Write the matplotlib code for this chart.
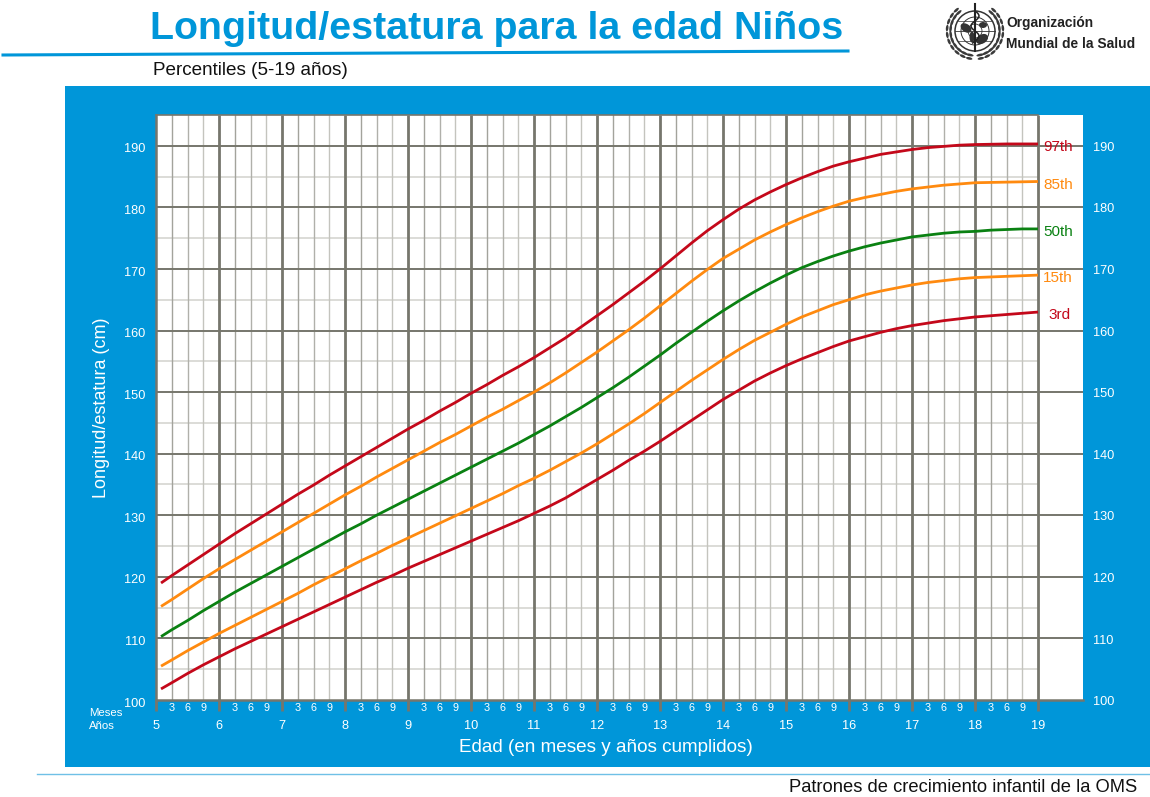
import numpy as np
import matplotlib
matplotlib.use("Agg")
import matplotlib.pyplot as plt
from matplotlib.patches import Circle, Ellipse, Rectangle
from matplotlib.transforms import ScaledTranslation

plt.rcParams["font.family"] = ["Liberation Sans", "DejaVu Sans"]

BLUE = "#0096d9"
GRID_DARK = "#76766c"
GRID_LIGHT = "#d2d2cd"
RED = "#c4081a"
ORANGE = "#ff8a0f"
GREEN = "#0a8112"

ages = [5.08, 5.25, 5.5, 5.75, 6, 6.25, 6.5, 6.75, 7, 7.25, 7.5, 7.75, 8, 8.25, 8.5, 8.75, 9,
        9.25, 9.5, 9.75, 10, 10.25, 10.5, 10.75, 11, 11.25, 11.5, 11.75, 12, 12.25, 12.5, 12.75, 13,
        13.25, 13.5, 13.75, 14, 14.25, 14.5, 14.75, 15, 15.25, 15.5, 15.75, 16, 16.25, 16.5, 16.75, 17,
        17.25, 17.5, 17.75, 18, 18.25, 18.5, 18.75, 19]
p97 = [119.0, 120.2, 121.9, 123.6, 125.3, 127.0, 128.6, 130.2, 131.8, 133.4, 134.9, 136.5, 138.0,
       139.5, 141.0, 142.5, 144.0, 145.4, 146.9, 148.3, 149.8, 151.2, 152.7, 154.1, 155.6, 157.2,
       158.8, 160.6, 162.4, 164.2, 166.1, 168.0, 170.0, 172.1, 174.2, 176.2, 178.0, 179.7, 181.2,
       182.5, 183.7, 184.8, 185.8, 186.7, 187.4, 188.0, 188.6, 189.0, 189.4, 189.7, 189.9, 190.1,
       190.2, 190.25, 190.3, 190.3, 190.3]
p85 = [115.2, 116.3, 118.0, 119.7, 121.3, 122.8, 124.3, 125.8, 127.3, 128.8, 130.3, 131.8, 133.3,
       134.7, 136.2, 137.6, 139.0, 140.4, 141.8, 143.1, 144.5, 145.9, 147.2, 148.6, 150.0, 151.5,
       153.1, 154.8, 156.5, 158.3, 160.1, 162.0, 164.0, 166.0, 168.0, 169.9, 171.7, 173.2, 174.7,
       176.0, 177.2, 178.3, 179.3, 180.2, 181.0, 181.6, 182.1, 182.6, 183.0, 183.3, 183.6, 183.8,
       184.0, 184.05, 184.1, 184.15, 184.2]
p50 = [110.3, 111.4, 112.9, 114.5, 116.0, 117.5, 118.9, 120.3, 121.7, 123.1, 124.5, 125.9, 127.3,
       128.6, 130.0, 131.3, 132.6, 133.9, 135.2, 136.5, 137.8, 139.1, 140.4, 141.7, 143.1, 144.5,
       146.0, 147.5, 149.1, 150.7, 152.4, 154.2, 156.0, 157.9, 159.7, 161.5, 163.2, 164.8, 166.3,
       167.7, 169.0, 170.2, 171.2, 172.1, 172.9, 173.6, 174.2, 174.7, 175.2, 175.5, 175.8, 176.0,
       176.1, 176.3, 176.4, 176.5, 176.5]
p15 = [105.5, 106.5, 108.0, 109.4, 110.8, 112.1, 113.4, 114.7, 116.0, 117.3, 118.7, 120.0, 121.3,
       122.6, 123.8, 125.1, 126.3, 127.5, 128.7, 129.9, 131.1, 132.3, 133.5, 134.8, 136.0, 137.3,
       138.7, 140.1, 141.6, 143.2, 144.8, 146.5, 148.3, 150.1, 151.9, 153.6, 155.3, 156.9, 158.4,
       159.7, 161.0, 162.2, 163.2, 164.2, 165.0, 165.8, 166.4, 166.9, 167.4, 167.8, 168.1, 168.4,
       168.6, 168.7, 168.8, 168.9, 169.0]
p3 = [101.8, 102.8, 104.3, 105.7, 107.0, 108.3, 109.5, 110.7, 111.9, 113.1, 114.3, 115.5, 116.7,
      117.9, 119.1, 120.2, 121.4, 122.5, 123.6, 124.7, 125.8, 126.9, 128.0, 129.1, 130.3, 131.5,
      132.8, 134.3, 135.8, 137.3, 138.9, 140.4, 142.0, 143.7, 145.4, 147.1, 148.8, 150.3, 151.8,
      153.1, 154.3, 155.4, 156.4, 157.4, 158.3, 159.0, 159.7, 160.3, 160.8, 161.2, 161.6, 161.9,
      162.2, 162.4, 162.6, 162.8, 163.0]
series = [(p97, RED, "97th"), (p85, ORANGE, "85th"), (p50, GREEN, "50th"),
          (p15, ORANGE, "15th"), (p3, RED, "3rd")]
year_ticks = list(range(5, 20))
height_ticks = list(range(100, 200, 10))
month_labels = ["3", "6", "9"]

W, H = 1150, 797
fig = plt.figure(figsize=(W / 100, H / 100), dpi=100, facecolor="white")

# page furniture, drawn in pixel coordinates
page = fig.add_axes([0, 0, 1, 1])
page.set_xlim(0, W)
page.set_ylim(H, 0)
page.axis("off")
page.add_patch(Rectangle((65, 86), 1085, 681, color=BLUE, lw=0))
page.plot([3, 400, 848], [55, 53, 51], color=BLUE, lw=2.2)
page.plot([37, 1150], [773.5, 773.5], color="#6fc0e6", lw=1)
page.text(150, 39, "Longitud/estatura para la edad Niños", color=BLUE, fontsize=28.4,
          fontweight="bold")
page.text(153, 75, "Percentiles (5-19 años)", color="#111111", fontsize=13.6)
page.text(1137, 792, "Patrones de crecimiento infantil de la OMS", color="#111111",
          fontsize=13.2, ha="right")
page.text(1006, 27, "Organización", color="#222222", fontsize=9.9, fontweight="bold")
page.text(1006, 48, "Mundial de la Salud", color="#222222", fontsize=9.9, fontweight="bold")
page.text(89, 716, "Meses", color="white", fontsize=8.2)
page.text(89, 729, "Años", color="white", fontsize=8.2)

# WHO emblem
cx, cy = 975, 31
logo = "#333333"
for r, lw in [(20, 1.1), (14, 0.7), (7, 0.6)]:
    page.add_patch(Circle((cx, cy), r, fill=False, ec=logo, lw=lw))
page.plot([cx - 20, cx + 20], [cy, cy], color=logo, lw=0.6)
page.plot([cx - 17, cx + 17], [cy - 10, cy - 10], color=logo, lw=0.5)
page.plot([cx - 17, cx + 17], [cy + 10, cy + 10], color=logo, lw=0.5)
page.add_patch(Ellipse((cx - 9, cy - 3), 12, 8, angle=35, color=logo, lw=0))
page.add_patch(Ellipse((cx - 3, cy + 6), 5, 11, color=logo, lw=0))
page.add_patch(Ellipse((cx + 7, cy + 8), 13, 9, angle=-30, color=logo, lw=0))
page.add_patch(Ellipse((cx + 8, cy - 6), 8, 6, color=logo, lw=0))
page.plot([cx, cx], [cy - 27, cy + 20], color="#222222", lw=1.5)
snake_y = np.linspace(cy - 19, cy + 12, 40)
page.plot(cx + 4 * np.sin((snake_y - cy) / 3.2), snake_y, color="#222222", lw=1.1)
for t_deg in np.arange(42, 172, 14):
    t = np.deg2rad(t_deg)
    for sign in (-1, 1):
        for radius, size in [(24.5, 7.5), (28, 6.5)]:
            lx = cx + sign * radius * np.sin(t)
            ly = cy - radius * np.cos(t)
            ang = np.rad2deg(np.arctan2(np.sin(t), sign * np.cos(t)))
            page.add_patch(Ellipse((lx, ly), size, 2.6, angle=ang, color="#3a3a3a", lw=0))

left, right, top, bottom = 156, 1083, 115, 700
ax = fig.add_axes([left / W, 1 - bottom / H, (right - left) / W, (bottom - top) / H])
ax.set_facecolor("white")
xmax = 19 + (right - 1038) / 63
ax.set_xlim(5, xmax)
ax.set_ylim(100, 195)
for name, side in ax.spines.items():
    side.set_visible(name in ("left", "bottom"))
    side.set_color(GRID_DARK)
    side.set_linewidth(1.8)

# minor grid first, it stops at 19 years
for h in height_ticks:
    if h + 5 < 195:
        ax.plot([5, 19], [h + 5, h + 5], color=GRID_LIGHT, lw=1.1, zorder=1)
for y in year_ticks[:-1]:
    for i, shade in enumerate(["#a3a39c", "#b0b0aa", "#c4c4be"]):
        ax.plot([y + (i + 1) * 0.25] * 2, [100, 195], color=shade, lw=1.0, zorder=1)
for h in height_ticks[1:]:
    ax.axhline(h, color=GRID_DARK, lw=1.4, zorder=2)
ax.plot([5, 19], [195, 195], color=GRID_DARK, lw=1.2, zorder=2, clip_on=False)
for y in year_ticks[1:]:
    ax.plot([y, y], [100, 195], color=GRID_DARK, lw=2.0, zorder=2, solid_capstyle="butt")

for values, color, label in series:
    ax.plot(ages, values, color=color, lw=2.0, zorder=3, solid_capstyle="butt")
    ax.text(19.17 if label == "3rd" else 19.08, values[-1] - 0.55,
            label, color=color, fontsize=11, va="center", zorder=4)

ax.set_xticks(year_ticks)
ax.set_xticklabels(year_ticks, color="white", fontsize=9.2)
ax.tick_params(axis="x", length=7.6, width=2.0, color=GRID_DARK, pad=7)
ax.set_yticks(height_ticks)
ax.set_yticklabels(height_ticks, color="white", fontsize=9.2)
ax.tick_params(axis="y", length=0, pad=8)
shift_down = ScaledTranslation(0, -1.5 / 72, fig.dpi_scale_trans)
for lab in ax.get_yticklabels():
    lab.set_transform(lab.get_transform() + shift_down)
ax.set_ylabel("Longitud/estatura (cm)", color="white", fontsize=13)
ax.yaxis.set_label_coords((110 - left) / (right - left), (700 - 408) / (bottom - top))
ax.set_xlabel("Edad (en meses y años cumplidos)", color="white", fontsize=13.6)
ax.xaxis.set_label_coords((606 - left) / (right - left), -0.067)
for h in height_ticks:
    ax.annotate(str(h), xy=(1, h), xycoords=("axes fraction", "data"), xytext=(7, -1.5),
                textcoords="offset points", color="white", fontsize=9.2, va="center")
for y in year_ticks[:-1]:
    for i, lab in enumerate(month_labels):
        ax.annotate(lab, xy=(y + (i + 1) * 0.25, 100), xycoords="data", xytext=(0, -5.5),
                    textcoords="offset points", color="white", fontsize=7.8, ha="center", va="center",
                    annotation_clip=False)

fig.savefig("out.png", dpi=100)
